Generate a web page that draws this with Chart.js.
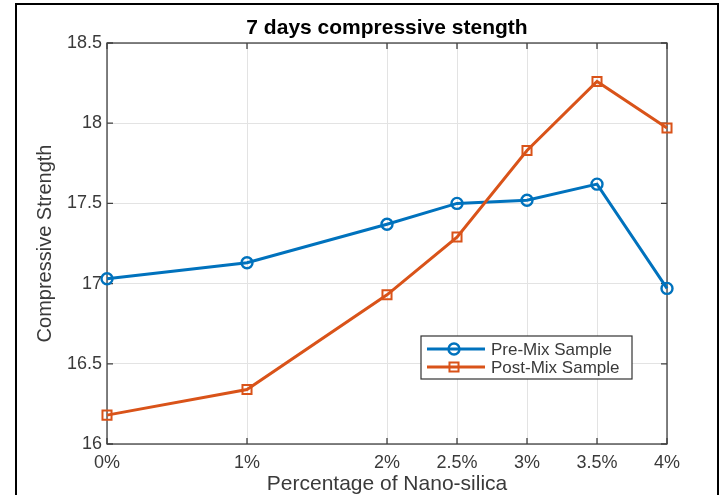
<!DOCTYPE html>
<html>
<head>
<meta charset="utf-8">
<script src="https://cdn.jsdelivr.net/npm/chart.js@4.4.1/dist/chart.umd.min.js"></script>
<style>
html,body{margin:0;padding:0;background:#fff;}
#wrap{width:724px;height:495px;position:relative;}
</style>
</head>
<body>
<div id="wrap"><canvas id="c" width="724" height="495"></canvas></div>
<script>
// ---- data ----
const nanoSilica = [0, 1, 2, 2.5, 3, 3.5, 4];
const preMix = [17.03, 17.13, 17.37, 17.50, 17.52, 17.62, 16.97];
const postMix = [16.18, 16.34, 16.93, 17.29, 17.83, 18.26, 17.97];
const xTicks = [0, 1, 2, 2.5, 3, 3.5, 4];
const yTicks = [16, 16.5, 17, 17.5, 18, 18.5];
const seriesNames = ['Pre-Mix Sample', 'Post-Mix Sample'];
const titleText = '7 days compressive stength';
const xTitle = 'Percentage of Nano-silica';
const yTitle = 'Compressive Strength';

const FONT = "'Liberation Sans', Arial, Helvetica, sans-serif";
const BLUE = '#0072BD';
const ORANGE = '#D95319';
const AXIS = '#404040';
const TXT = '#3a3a3a';
const GRID = '#e3e3e3';

const framePlugin = {
  id: 'frame',
  afterDraw(chart) {
    const ctx = chart.ctx;
    ctx.save();
    ctx.strokeStyle = '#000';
    ctx.lineWidth = 2;
    ctx.beginPath();
    ctx.moveTo(16, 495);
    ctx.lineTo(16, 4);
    ctx.lineTo(718, 4);
    ctx.lineTo(718, 495);
    ctx.stroke();
    ctx.restore();
  }
};

const boxPlugin = {
  id: 'axbox',
  beforeDatasetsDraw(chart) {
    const {ctx, chartArea: a, scales} = chart;
    ctx.save();
    ctx.strokeStyle = AXIS;
    ctx.lineWidth = 1.3;
    ctx.strokeRect(a.left, a.top, a.right - a.left, a.bottom - a.top);
    ctx.beginPath();
    const tl = 6;
    scales.x.ticks.forEach(t => {
      const px = scales.x.getPixelForValue(t.value);
      ctx.moveTo(px, a.bottom); ctx.lineTo(px, a.bottom - tl);
      ctx.moveTo(px, a.top); ctx.lineTo(px, a.top + tl);
    });
    scales.y.ticks.forEach(t => {
      const py = scales.y.getPixelForValue(t.value);
      ctx.moveTo(a.left, py); ctx.lineTo(a.left + tl, py);
      ctx.moveTo(a.right, py); ctx.lineTo(a.right - tl, py);
    });
    ctx.stroke();
    ctx.restore();
  }
};

const legendPlugin = {
  id: 'boxLegend',
  afterDraw(chart) {
    const ctx = chart.ctx;
    const bx = 421, by = 336, bw = 211, bh = 43;
    ctx.save();
    ctx.fillStyle = '#fff';
    ctx.fillRect(bx, by, bw, bh);
    ctx.strokeStyle = '#333';
    ctx.lineWidth = 1.2;
    ctx.strokeRect(bx, by, bw, bh);
    chart.data.datasets.forEach((ds, i) => {
      const y = by + 13 + i * 18;
      ctx.strokeStyle = ds.borderColor;
      ctx.lineWidth = 3;
      ctx.beginPath();
      ctx.moveTo(bx + 6, y); ctx.lineTo(bx + 64, y);
      ctx.stroke();
      ctx.fillStyle = 'rgba(0,0,0,0)';
      ctx.lineWidth = ds.pointBorderWidth;
      Chart.helpers.drawPoint(ctx, {
        pointStyle: ds.pointStyle, radius: ds.pointRadius, rotation: 0, borderWidth: ds.pointBorderWidth
      }, bx + 33, y);
      ctx.fillStyle = TXT;
      ctx.font = '17px ' + FONT;
      ctx.textBaseline = 'middle';
      ctx.textAlign = 'left';
      ctx.fillText(ds.label, bx + 70, y + 1);
    });
    ctx.restore();
  }
};

new Chart(document.getElementById('c'), {
  type: 'line',
  data: {
    datasets: [
      {
        label: seriesNames[0],
        data: nanoSilica.map((x, i) => ({x: x, y: preMix[i]})),
        borderColor: BLUE,
        backgroundColor: 'rgba(0,0,0,0)',
        borderWidth: 3,
        pointStyle: 'circle',
        pointRadius: 5.5,
        pointBorderWidth: 2.4,
        pointBorderColor: BLUE,
        pointBackgroundColor: 'rgba(0,0,0,0)',
        tension: 0,
        clip: false,
        order: 1
      },
      {
        label: seriesNames[1],
        data: nanoSilica.map((x, i) => ({x: x, y: postMix[i]})),
        borderColor: ORANGE,
        backgroundColor: 'rgba(0,0,0,0)',
        borderWidth: 3,
        pointStyle: 'rect',
        pointRadius: 6.4,
        pointBorderWidth: 2,
        pointBorderColor: ORANGE,
        pointBackgroundColor: 'rgba(0,0,0,0)',
        tension: 0,
        clip: false,
        order: 0
      }
    ]
  },
  options: {
    responsive: false,
    animation: false,
    devicePixelRatio: 1,
    layout: {padding: {left: 20, right: 57, top: 6, bottom: 0}},
    plugins: {
      legend: {display: false},
      tooltip: {enabled: false},
      title: {
        display: true,
        text: titleText,
        fullSize: false,
        color: '#000',
        font: {family: FONT, size: 21, weight: 'bold'},
        padding: {top: 10, bottom: 1.8}
      }
    },
    scales: {
      x: {
        type: 'linear',
        min: 0, max: 4,
        afterBuildTicks(scale) { scale.ticks = xTicks.map(v => ({value: v})); },
        afterFit(scale) { scale.height = 51; },
        grid: {color: GRID, lineWidth: 1, drawTicks: false},
        border: {display: false},
        ticks: {
          color: TXT, padding: 8, maxRotation: 0, autoSkip: false,
          font: {family: FONT, size: 18},
          callback: v => v + '%'
        },
        title: {display: true, text: xTitle, color: TXT, font: {family: FONT, size: 21}, padding: {top: 0, bottom: -1.5}}
      },
      y: {
        type: 'linear',
        min: 16, max: 18.5,
        afterBuildTicks(scale) { scale.ticks = yTicks.map(v => ({value: v})); },
        afterFit(scale) { scale.width = 87; },
        grid: {color: GRID, lineWidth: 1, drawTicks: false},
        border: {display: false},
        ticks: {color: TXT, padding: 5, font: {family: FONT, size: 18}, callback: v => String(v)},
        title: {display: true, text: yTitle, color: TXT, font: {family: FONT, size: 20}, padding: {top: 13.5, bottom: 0}}
      }
    }
  },
  plugins: [boxPlugin, legendPlugin, framePlugin]
});
</script>
</body>
</html>
